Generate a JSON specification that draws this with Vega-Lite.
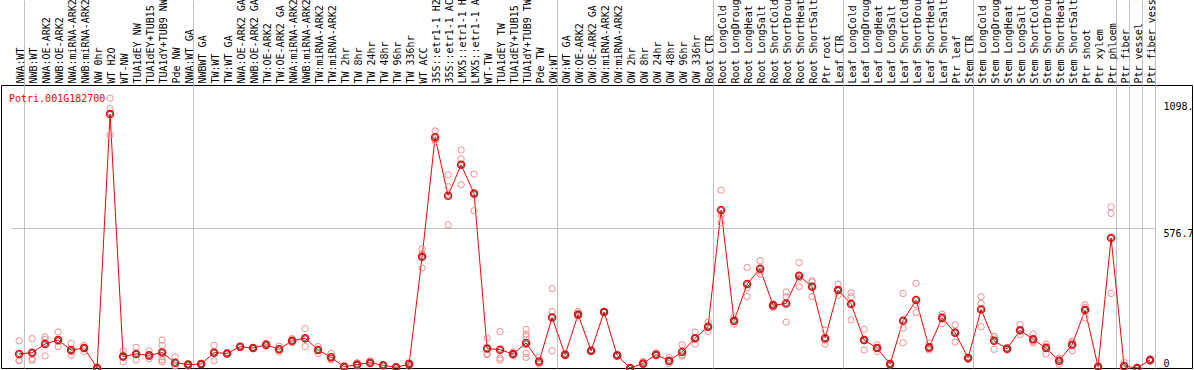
{
  "$schema": "https://vega.github.io/schema/vega-lite/v6.json",
  "width": 1191,
  "height": 283,
  "autosize": {"type": "none"},
  "padding": {"left": 1, "top": 85, "right": 2, "bottom": 2},
  "background": "#ffffff",
  "title": {"text": "Potri.001G182700", "orient": "bottom", "anchor": "start", "frame": "group", "offset": -280, "dx": 8, "color": "#ff0000", "font": "DejaVu Sans Mono", "fontSize": 10, "fontWeight": "normal"},
  "datasets": {
    "means": [
      {"sample": "NWA:WT", "value": 58},
      {"sample": "NWB:WT", "value": 63},
      {"sample": "NWA:OE-ARK2", "value": 99},
      {"sample": "NWB:OE-ARK2", "value": 115},
      {"sample": "NWA:miRNA-ARK2", "value": 74},
      {"sample": "NWB:miRNA-ARK2", "value": 82},
      {"sample": "NW 0hr", "value": 0},
      {"sample": "WT H2O", "value": 1047},
      {"sample": "WT-NW", "value": 47},
      {"sample": "TUA1dEY NW", "value": 58},
      {"sample": "TUA1dEY+TUB15 NW", "value": 52},
      {"sample": "TUA1dY+TUB9 NW", "value": 64},
      {"sample": "Pde NW", "value": 22},
      {"sample": "NWA:WT GA", "value": 14},
      {"sample": "NWBWT GA", "value": 16},
      {"sample": "TW:WT", "value": 63},
      {"sample": "TW:WT GA", "value": 60},
      {"sample": "NWA:OE-ARK2 GA", "value": 88},
      {"sample": "NWB:OE-ARK2 GA", "value": 82},
      {"sample": "TW:OE-ARK2", "value": 96},
      {"sample": "TW:OE-ARK2 GA", "value": 77},
      {"sample": "NWA:miRNA-ARK2 GA", "value": 112},
      {"sample": "NWB:miRNA-ARK2 GA", "value": 123},
      {"sample": "TW:miRNA-ARK2", "value": 74},
      {"sample": "TW:miRNA-ARK2 GA", "value": 44},
      {"sample": "TW 2hr", "value": 5},
      {"sample": "TW 8hr", "value": 14},
      {"sample": "TW 24hr", "value": 22},
      {"sample": "TW 48hr", "value": 11},
      {"sample": "TW 96hr", "value": 3},
      {"sample": "TW 336hr", "value": 16},
      {"sample": "WT ACC", "value": 458},
      {"sample": "35S::etr1-1 H2O", "value": 951},
      {"sample": "35S::etr1-1 ACC", "value": 710},
      {"sample": "LMX5::etr1-1 H2O", "value": 837},
      {"sample": "LMX5::etr1-1 ACC", "value": 719},
      {"sample": "WT-TW", "value": 80},
      {"sample": "TUA1dEY TW", "value": 75},
      {"sample": "TUA1dEY+TUB15 TW", "value": 58},
      {"sample": "TUA1dY+TUB9 TW", "value": 103},
      {"sample": "Pde TW", "value": 27},
      {"sample": "OW:WT", "value": 208},
      {"sample": "OW:WT GA", "value": 55},
      {"sample": "OW:OE-ARK2", "value": 220},
      {"sample": "OW:OE-ARK2 GA", "value": 71},
      {"sample": "OW:miRNA-ARK2", "value": 231},
      {"sample": "OW:miRNA-ARK2 GA", "value": 52},
      {"sample": "OW 2hr", "value": 0},
      {"sample": "OW 8hr", "value": 19},
      {"sample": "OW 24hr", "value": 55},
      {"sample": "OW 48hr", "value": 30},
      {"sample": "OW 96hr", "value": 66},
      {"sample": "OW 336hr", "value": 123},
      {"sample": "Root CTR", "value": 170},
      {"sample": "Root LongCold", "value": 651},
      {"sample": "Root LongDrought", "value": 195},
      {"sample": "Root LongHeat", "value": 346},
      {"sample": "Root LongSalt", "value": 409},
      {"sample": "Root ShortCold", "value": 258},
      {"sample": "Root ShortDrought", "value": 266},
      {"sample": "Root ShortHeat", "value": 380},
      {"sample": "Root ShortSalt", "value": 335},
      {"sample": "Ptr root", "value": 123},
      {"sample": "Leaf CTR", "value": 321},
      {"sample": "Leaf LongCold", "value": 264},
      {"sample": "Leaf LongDrought", "value": 115},
      {"sample": "Leaf LongHeat", "value": 82},
      {"sample": "Leaf LongSalt", "value": 16},
      {"sample": "Leaf ShortCold", "value": 195},
      {"sample": "Leaf ShortDrought", "value": 280},
      {"sample": "Leaf ShortHeat", "value": 85},
      {"sample": "Leaf ShortSalt", "value": 206},
      {"sample": "Ptr leaf", "value": 145},
      {"sample": "Stem CTR", "value": 41},
      {"sample": "Stem LongCold", "value": 241},
      {"sample": "Stem LongDrought", "value": 112},
      {"sample": "Stem LongHeat", "value": 79},
      {"sample": "Stem LongSalt", "value": 156},
      {"sample": "Stem ShortCold", "value": 118},
      {"sample": "Stem ShortDrought", "value": 82},
      {"sample": "Stem ShortHeat", "value": 30},
      {"sample": "Stem ShortSalt", "value": 96},
      {"sample": "Ptr shoot", "value": 239},
      {"sample": "Ptr xylem", "value": 5},
      {"sample": "Ptr phloem", "value": 536},
      {"sample": "Ptr fiber", "value": 8},
      {"sample": "Ptr vessel", "value": 0},
      {"sample": "Ptr fiber vessel", "value": 33}
    ],
    "reps": [
      {"sample": "NWA:WT", "value": 112}, {"sample": "NWA:WT", "value": 32}, {"sample": "NWA:WT", "value": 30},
      {"sample": "NWB:WT", "value": 121}, {"sample": "NWB:WT", "value": 37}, {"sample": "NWB:WT", "value": 31},
      {"sample": "NWA:OE-ARK2", "value": 128}, {"sample": "NWA:OE-ARK2", "value": 118}, {"sample": "NWA:OE-ARK2", "value": 50},
      {"sample": "NWB:OE-ARK2", "value": 148}, {"sample": "NWB:OE-ARK2", "value": 88}, {"sample": "NWB:OE-ARK2", "value": 110},
      {"sample": "NWA:miRNA-ARK2", "value": 101}, {"sample": "NWA:miRNA-ARK2", "value": 68}, {"sample": "NWA:miRNA-ARK2", "value": 53},
      {"sample": "NWB:miRNA-ARK2", "value": 93}, {"sample": "NWB:miRNA-ARK2", "value": 68}, {"sample": "NWB:miRNA-ARK2", "value": 85},
      {"sample": "NW 0hr", "value": 0}, {"sample": "NW 0hr", "value": 0}, {"sample": "NW 0hr", "value": 0},
      {"sample": "WT H2O", "value": 1112}, {"sample": "WT H2O", "value": 1068}, {"sample": "WT H2O", "value": 961},
      {"sample": "WT-NW", "value": 71}, {"sample": "WT-NW", "value": 25}, {"sample": "WT-NW", "value": 45},
      {"sample": "TUA1dEY NW", "value": 85}, {"sample": "TUA1dEY NW", "value": 33}, {"sample": "TUA1dEY NW", "value": 56},
      {"sample": "TUA1dEY+TUB15 NW", "value": 71}, {"sample": "TUA1dEY+TUB15 NW", "value": 38}, {"sample": "TUA1dEY+TUB15 NW", "value": 47},
      {"sample": "TUA1dY+TUB9 NW", "value": 115}, {"sample": "TUA1dY+TUB9 NW", "value": 93}, {"sample": "TUA1dY+TUB9 NW", "value": 68}, {"sample": "TUA1dY+TUB9 NW", "value": 46}, {"sample": "TUA1dY+TUB9 NW", "value": 33}, {"sample": "TUA1dY+TUB9 NW", "value": 25},
      {"sample": "Pde NW", "value": 46}, {"sample": "Pde NW", "value": 11}, {"sample": "Pde NW", "value": 9},
      {"sample": "NWA:WT GA", "value": 16}, {"sample": "NWA:WT GA", "value": 8}, {"sample": "NWA:WT GA", "value": 18},
      {"sample": "NWBWT GA", "value": 16}, {"sample": "NWBWT GA", "value": 14}, {"sample": "NWBWT GA", "value": 18},
      {"sample": "TW:WT", "value": 93}, {"sample": "TW:WT", "value": 30}, {"sample": "TW:WT", "value": 66},
      {"sample": "TW:WT GA", "value": 62}, {"sample": "TW:WT GA", "value": 58}, {"sample": "TW:WT GA", "value": 60},
      {"sample": "NWA:OE-ARK2 GA", "value": 90}, {"sample": "NWA:OE-ARK2 GA", "value": 86}, {"sample": "NWA:OE-ARK2 GA", "value": 88},
      {"sample": "NWB:OE-ARK2 GA", "value": 84}, {"sample": "NWB:OE-ARK2 GA", "value": 80}, {"sample": "NWB:OE-ARK2 GA", "value": 82},
      {"sample": "TW:OE-ARK2", "value": 101}, {"sample": "TW:OE-ARK2", "value": 90}, {"sample": "TW:OE-ARK2", "value": 97},
      {"sample": "TW:OE-ARK2 GA", "value": 90}, {"sample": "TW:OE-ARK2 GA", "value": 66}, {"sample": "TW:OE-ARK2 GA", "value": 75},
      {"sample": "NWA:miRNA-ARK2 GA", "value": 121}, {"sample": "NWA:miRNA-ARK2 GA", "value": 104}, {"sample": "NWA:miRNA-ARK2 GA", "value": 111},
      {"sample": "NWB:miRNA-ARK2 GA", "value": 162}, {"sample": "NWB:miRNA-ARK2 GA", "value": 88}, {"sample": "NWB:miRNA-ARK2 GA", "value": 119},
      {"sample": "TW:miRNA-ARK2", "value": 88}, {"sample": "TW:miRNA-ARK2", "value": 60}, {"sample": "TW:miRNA-ARK2", "value": 74},
      {"sample": "TW:miRNA-ARK2 GA", "value": 60}, {"sample": "TW:miRNA-ARK2 GA", "value": 33}, {"sample": "TW:miRNA-ARK2 GA", "value": 39},
      {"sample": "TW 2hr", "value": 9}, {"sample": "TW 2hr", "value": 3}, {"sample": "TW 2hr", "value": 3},
      {"sample": "TW 8hr", "value": 22}, {"sample": "TW 8hr", "value": 11}, {"sample": "TW 8hr", "value": 9},
      {"sample": "TW 24hr", "value": 30}, {"sample": "TW 24hr", "value": 19}, {"sample": "TW 24hr", "value": 17},
      {"sample": "TW 48hr", "value": 14}, {"sample": "TW 48hr", "value": 9}, {"sample": "TW 48hr", "value": 10},
      {"sample": "TW 96hr", "value": 5}, {"sample": "TW 96hr", "value": 2}, {"sample": "TW 96hr", "value": 2},
      {"sample": "TW 336hr", "value": 22}, {"sample": "TW 336hr", "value": 6}, {"sample": "TW 336hr", "value": 20},
      {"sample": "WT ACC", "value": 491}, {"sample": "WT ACC", "value": 472}, {"sample": "WT ACC", "value": 412},
      {"sample": "35S::etr1-1 H2O", "value": 977}, {"sample": "35S::etr1-1 H2O", "value": 940}, {"sample": "35S::etr1-1 H2O", "value": 936},
      {"sample": "35S::etr1-1 ACC", "value": 796}, {"sample": "35S::etr1-1 ACC", "value": 747}, {"sample": "35S::etr1-1 ACC", "value": 590},
      {"sample": "LMX5::etr1-1 H2O", "value": 898}, {"sample": "LMX5::etr1-1 H2O", "value": 862}, {"sample": "LMX5::etr1-1 H2O", "value": 755},
      {"sample": "LMX5::etr1-1 ACC", "value": 799}, {"sample": "LMX5::etr1-1 ACC", "value": 714}, {"sample": "LMX5::etr1-1 ACC", "value": 648},
      {"sample": "WT-TW", "value": 123}, {"sample": "WT-TW", "value": 60}, {"sample": "WT-TW", "value": 55},
      {"sample": "TUA1dEY TW", "value": 150}, {"sample": "TUA1dEY TW", "value": 41}, {"sample": "TUA1dEY TW", "value": 33},
      {"sample": "TUA1dEY+TUB15 TW", "value": 66}, {"sample": "TUA1dEY+TUB15 TW", "value": 52}, {"sample": "TUA1dEY+TUB15 TW", "value": 57},
      {"sample": "TUA1dY+TUB9 TW", "value": 159}, {"sample": "TUA1dY+TUB9 TW", "value": 140}, {"sample": "TUA1dY+TUB9 TW", "value": 129}, {"sample": "TUA1dY+TUB9 TW", "value": 96}, {"sample": "TUA1dY+TUB9 TW", "value": 60}, {"sample": "TUA1dY+TUB9 TW", "value": 44},
      {"sample": "Pde TW", "value": 44}, {"sample": "Pde TW", "value": 16}, {"sample": "Pde TW", "value": 22},
      {"sample": "OW:WT", "value": 327}, {"sample": "OW:WT", "value": 233}, {"sample": "OW:WT", "value": 71},
      {"sample": "OW:WT GA", "value": 60}, {"sample": "OW:WT GA", "value": 50}, {"sample": "OW:WT GA", "value": 55},
      {"sample": "OW:OE-ARK2", "value": 233}, {"sample": "OW:OE-ARK2", "value": 211}, {"sample": "OW:OE-ARK2", "value": 216},
      {"sample": "OW:OE-ARK2 GA", "value": 74}, {"sample": "OW:OE-ARK2 GA", "value": 68}, {"sample": "OW:OE-ARK2 GA", "value": 71},
      {"sample": "OW:miRNA-ARK2", "value": 233}, {"sample": "OW:miRNA-ARK2", "value": 229}, {"sample": "OW:miRNA-ARK2", "value": 231},
      {"sample": "OW:miRNA-ARK2 GA", "value": 55}, {"sample": "OW:miRNA-ARK2 GA", "value": 50}, {"sample": "OW:miRNA-ARK2 GA", "value": 52},
      {"sample": "OW 2hr", "value": 0}, {"sample": "OW 2hr", "value": 0}, {"sample": "OW 2hr", "value": 0},
      {"sample": "OW 8hr", "value": 27}, {"sample": "OW 8hr", "value": 14}, {"sample": "OW 8hr", "value": 16},
      {"sample": "OW 24hr", "value": 63}, {"sample": "OW 24hr", "value": 52}, {"sample": "OW 24hr", "value": 50},
      {"sample": "OW 48hr", "value": 44}, {"sample": "OW 48hr", "value": 19}, {"sample": "OW 48hr", "value": 27},
      {"sample": "OW 96hr", "value": 96}, {"sample": "OW 96hr", "value": 49}, {"sample": "OW 96hr", "value": 53},
      {"sample": "OW 336hr", "value": 148}, {"sample": "OW 336hr", "value": 99}, {"sample": "OW 336hr", "value": 122},
      {"sample": "Root CTR", "value": 189}, {"sample": "Root CTR", "value": 151}, {"sample": "Root CTR", "value": 170},
      {"sample": "Root LongCold", "value": 733}, {"sample": "Root LongCold", "value": 629}, {"sample": "Root LongCold", "value": 598},
      {"sample": "Root LongDrought", "value": 211}, {"sample": "Root LongDrought", "value": 181}, {"sample": "Root LongDrought", "value": 193},
      {"sample": "Root LongHeat", "value": 414}, {"sample": "Root LongHeat", "value": 294}, {"sample": "Root LongHeat", "value": 330},
      {"sample": "Root LongSalt", "value": 442}, {"sample": "Root LongSalt", "value": 387}, {"sample": "Root LongSalt", "value": 398},
      {"sample": "Root ShortCold", "value": 260}, {"sample": "Root ShortCold", "value": 250}, {"sample": "Root ShortCold", "value": 264},
      {"sample": "Root ShortDrought", "value": 313}, {"sample": "Root ShortDrought", "value": 189}, {"sample": "Root ShortDrought", "value": 294},
      {"sample": "Root ShortHeat", "value": 434}, {"sample": "Root ShortHeat", "value": 335}, {"sample": "Root ShortHeat", "value": 371},
      {"sample": "Root ShortSalt", "value": 360}, {"sample": "Root ShortSalt", "value": 294}, {"sample": "Root ShortSalt", "value": 354},
      {"sample": "Ptr root", "value": 156}, {"sample": "Ptr root", "value": 99}, {"sample": "Ptr root", "value": 114},
      {"sample": "Leaf CTR", "value": 346}, {"sample": "Leaf CTR", "value": 299}, {"sample": "Leaf CTR", "value": 318},
      {"sample": "Leaf LongCold", "value": 310}, {"sample": "Leaf LongCold", "value": 198}, {"sample": "Leaf LongCold", "value": 294},
      {"sample": "Leaf LongDrought", "value": 159}, {"sample": "Leaf LongDrought", "value": 74}, {"sample": "Leaf LongDrought", "value": 112},
      {"sample": "Leaf LongHeat", "value": 96}, {"sample": "Leaf LongHeat", "value": 68}, {"sample": "Leaf LongHeat", "value": 82},
      {"sample": "Leaf LongSalt", "value": 20}, {"sample": "Leaf LongSalt", "value": 12}, {"sample": "Leaf LongSalt", "value": 16},
      {"sample": "Leaf ShortCold", "value": 307}, {"sample": "Leaf ShortCold", "value": 165}, {"sample": "Leaf ShortCold", "value": 104},
      {"sample": "Leaf ShortDrought", "value": 349}, {"sample": "Leaf ShortDrought", "value": 261}, {"sample": "Leaf ShortDrought", "value": 228},
      {"sample": "Leaf ShortHeat", "value": 101}, {"sample": "Leaf ShortHeat", "value": 74}, {"sample": "Leaf ShortHeat", "value": 80},
      {"sample": "Leaf ShortSalt", "value": 222}, {"sample": "Leaf ShortSalt", "value": 184}, {"sample": "Leaf ShortSalt", "value": 212},
      {"sample": "Ptr leaf", "value": 178}, {"sample": "Ptr leaf", "value": 107}, {"sample": "Ptr leaf", "value": 150},
      {"sample": "Stem CTR", "value": 46}, {"sample": "Stem CTR", "value": 36}, {"sample": "Stem CTR", "value": 41},
      {"sample": "Stem LongCold", "value": 294}, {"sample": "Stem LongCold", "value": 266}, {"sample": "Stem LongCold", "value": 170},
      {"sample": "Stem LongDrought", "value": 129}, {"sample": "Stem LongDrought", "value": 77}, {"sample": "Stem LongDrought", "value": 130},
      {"sample": "Stem LongHeat", "value": 85}, {"sample": "Stem LongHeat", "value": 74}, {"sample": "Stem LongHeat", "value": 78},
      {"sample": "Stem LongSalt", "value": 178}, {"sample": "Stem LongSalt", "value": 137}, {"sample": "Stem LongSalt", "value": 153},
      {"sample": "Stem ShortCold", "value": 140}, {"sample": "Stem ShortCold", "value": 104}, {"sample": "Stem ShortCold", "value": 110},
      {"sample": "Stem ShortDrought", "value": 99}, {"sample": "Stem ShortDrought", "value": 58}, {"sample": "Stem ShortDrought", "value": 89},
      {"sample": "Stem ShortHeat", "value": 41}, {"sample": "Stem ShortHeat", "value": 16}, {"sample": "Stem ShortHeat", "value": 33},
      {"sample": "Stem ShortSalt", "value": 110}, {"sample": "Stem ShortSalt", "value": 71}, {"sample": "Stem ShortSalt", "value": 107},
      {"sample": "Ptr shoot", "value": 261}, {"sample": "Ptr shoot", "value": 206}, {"sample": "Ptr shoot", "value": 250},
      {"sample": "Ptr xylem", "value": 8}, {"sample": "Ptr xylem", "value": 3}, {"sample": "Ptr xylem", "value": 4},
      {"sample": "Ptr phloem", "value": 664}, {"sample": "Ptr phloem", "value": 637}, {"sample": "Ptr phloem", "value": 307},
      {"sample": "Ptr fiber", "value": 24}, {"sample": "Ptr fiber", "value": 0}, {"sample": "Ptr fiber", "value": 0},
      {"sample": "Ptr vessel", "value": 0}, {"sample": "Ptr vessel", "value": 0}, {"sample": "Ptr vessel", "value": 0},
      {"sample": "Ptr fiber vessel", "value": 38}, {"sample": "Ptr fiber vessel", "value": 28}, {"sample": "Ptr fiber vessel", "value": 33}
    ]
  },
  "encoding": {
    "x": {
      "field": "sample", "type": "nominal", "sort": null, "bandPosition": 0.6,
      "scale": {"type": "band", "paddingInner": 0, "paddingOuter": 0, "range": [10.3, 1154.3], "round": false},
      "axis": {
        "orient": "top", "title": null,
        "labelAngle": -90, "labelAlign": "left", "labelBaseline": "middle",
        "labelFont": "DejaVu Sans Mono", "labelFontSize": 10, "labelColor": "#000000",
        "labelPadding": -83, "labelLimit": 0, "labelOverlap": false, "labelOffset": 2.5,
        "domain": false,
        "ticks": true, "tickSize": 85, "tickBand": "extent", "tickWidth": 1,
        "tickColor": {"condition": {"test": "indexof(['NWA:WT','NWA:WT GA','OW:WT','Root CTR','Leaf CTR','Stem CTR','Ptr phloem','Ptr fiber','Ptr vessel','Ptr fiber vessel'], datum.value) >= 0", "value": "#c0c0c0"}, "value": "transparent"},
        "grid": true, "gridWidth": 1,
        "gridColor": {"condition": {"test": "indexof(['NWA:WT','NWA:WT GA','OW:WT','Root CTR','Leaf CTR','Stem CTR','Ptr phloem','Ptr fiber','Ptr vessel','Ptr fiber vessel'], datum.value) >= 0", "value": "#c0c0c0"}, "value": "transparent"}
      }
    },
    "y": {
      "field": "value", "type": "quantitative",
      "scale": {"domain": [0, 1166], "nice": false, "zero": true},
      "axis": {
        "orient": "left", "title": null,
        "values": [0, 576.7, 1098.4], "format": ".1~f",
        "labelFont": "DejaVu Sans Mono", "labelFontSize": 10, "labelColor": "#000000",
        "labelAlign": "left", "labelPadding": -1162, "labelFlush": false,
        "labelBaseline": {"condition": {"test": "datum.value == 0", "value": "bottom"}, "value": "top"},
        "ticks": false, "domain": false,
        "grid": true, "gridWidth": 1,
        "gridColor": {"condition": {"test": "datum.value == 576.7", "value": "#c0c0c0"}, "value": "transparent"}
      }
    }
  },
  "layer": [
    {
      "data": {"name": "means"},
      "mark": {"type": "line", "color": "#ff0000", "strokeWidth": 1}
    },
    {
      "data": {"name": "reps"},
      "mark": {"type": "point", "shape": "circle", "filled": false, "stroke": "#f09090", "strokeWidth": 1, "size": 40, "opacity": 1}
    },
    {
      "data": {"name": "means"},
      "mark": {"type": "point", "shape": "circle", "filled": false, "stroke": "#ff0000", "strokeWidth": 1.3, "size": 52, "opacity": 1}
    },
    {
      "data": {"name": "means"},
      "mark": {"type": "point", "shape": "circle", "filled": false, "stroke": "#000000", "strokeWidth": 0.6, "size": 26, "opacity": 1}
    }
  ],
  "config": {
    "view": {"stroke": "#000000", "strokeWidth": 1},
    "axis": {"labelFont": "DejaVu Sans Mono"}
  }
}
